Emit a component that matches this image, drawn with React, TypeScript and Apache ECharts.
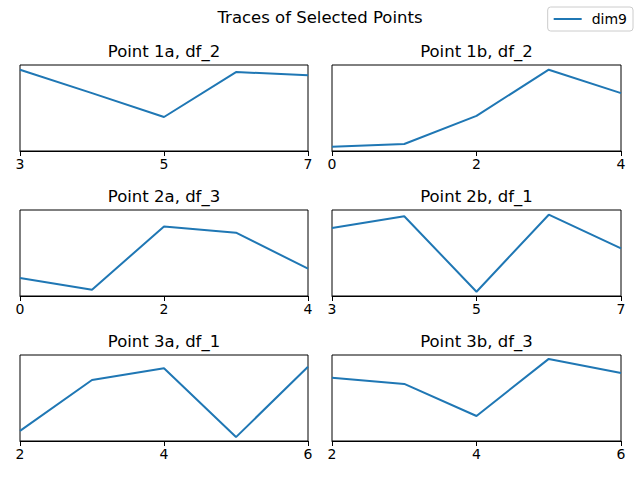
import { useEffect, useRef } from 'react';
import * as echarts from 'echarts';

const panelTitles = ['Point 1a, df_2', 'Point 1b, df_2', 'Point 2a, df_3', 'Point 2b, df_1', 'Point 3a, df_1', 'Point 3b, df_3'];
const x1a = ['3', '4', '5', '6', '7'];
const x1b = ['0', '1', '2', '3', '4'];
const x2a = ['0', '1', '2', '3', '4'];
const x2b = ['3', '4', '5', '6', '7'];
const x3a = ['2', '3', '4', '5', '6'];
const x3b = ['2', '3', '4', '5', '6'];
const y1a = [0.99, 0.69, 0.385, 0.96, 0.92];
const y1b = [0.005, 0.04, 0.4, 0.99, 0.69];
const y2a = [0.18, 0.03, 0.84, 0.76, 0.3];
const y2b = [0.82, 0.97, 0.005, 0.99, 0.56];
const y3a = [0.08, 0.73, 0.88, 0.0, 0.9];
const y3b = [0.76, 0.68, 0.27, 1.0, 0.82];
const seriesName = 'dim9';
const suptitle = 'Traces of Selected Points';

const xCats = [x1a, x1b, x2a, x2b, x3a, x3b];
const yVals = [y1a, y1b, y2a, y2b, y3a, y3b];

const FONT = 'DejaVu Sans';
const LINE = '#1f77b4';
const colLeft = [20, 332];
const colWidth = [288, 289];
const rowTop = [65, 210, 355];
const plotH = 86;

export default function App() {
  const chartRef = useRef<HTMLDivElement>(null);

  useEffect(() => {
    if (!chartRef.current) return;
    const chart = echarts.init(chartRef.current, null, { renderer: 'svg' });

    const grids: any[] = [];
    const xAxes: any[] = [];
    const yAxes: any[] = [];
    const series: any[] = [];
    const graphics: any[] = [];

    panelTitles.forEach((t, i) => {
      const c = i % 2;
      const r = Math.floor(i / 2);
      grids.push({
        left: colLeft[c],
        top: rowTop[r],
        width: colWidth[c],
        height: plotH,
        show: true,
        borderColor: '#000',
        borderWidth: 1,
        backgroundColor: 'transparent',
      });
      xAxes.push({
        type: 'category',
        gridIndex: i,
        data: xCats[i],
        boundaryGap: false,
        axisLine: { show: true, onZero: false, lineStyle: { color: '#000', width: 1 } },
        axisTick: { show: true, interval: 1, length: 5, lineStyle: { color: '#000' } },
        axisLabel: { interval: 1, color: '#000', fontSize: 14, fontFamily: FONT, margin: 6 },
        splitLine: { show: false },
      });
      yAxes.push({
        type: 'value',
        gridIndex: i,
        min: -0.05,
        max: 1.05,
        axisLine: { show: false },
        axisTick: { show: false },
        axisLabel: { show: false },
        splitLine: { show: false },
      });
      series.push({
        name: seriesName,
        type: 'line',
        xAxisIndex: i,
        yAxisIndex: i,
        data: yVals[i],
        showSymbol: false,
        lineStyle: { color: LINE, width: 2 },
        itemStyle: { color: LINE },
      });
      graphics.push({
        type: 'text',
        x: colLeft[c] + colWidth[c] / 2,
        y: rowTop[r] - 14,
        style: {
          text: t,
          align: 'center',
          verticalAlign: 'middle',
          fontSize: 16.5,
          fontFamily: FONT,
          fill: '#000',
        },
      });
    });

    graphics.push({
      type: 'text',
      x: 320,
      y: 17,
      style: {
        text: suptitle,
        align: 'center',
        verticalAlign: 'middle',
        fontSize: 16.5,
        fontFamily: FONT,
        fill: '#000',
      },
    });

    const option: echarts.EChartsOption = {
      animation: false,
      backgroundColor: '#fff',
      grid: grids,
      xAxis: xAxes,
      yAxis: yAxes,
      series,
      graphic: graphics,
      legend: {
        data: [{ name: seriesName, icon: 'rect' }],
        right: 7,
        top: 7,
        orient: 'vertical',
        padding: [5, 6, 5, 6],
        itemWidth: 28,
        itemHeight: 2,
        backgroundColor: '#fff',
        borderColor: '#cccccc',
        borderWidth: 1,
        borderRadius: 3,
        textStyle: { color: '#000', fontSize: 14, fontFamily: FONT, padding: [0, 0, 0, 5] },
      },
    };

    chart.setOption(option);
    return () => {
      chart.dispose();
    };
  }, []);

  return (
    <div
      ref={chartRef}
      style={{ position: 'fixed', left: 0, top: 0, width: 640, height: 480 }}
    />
  );
}
